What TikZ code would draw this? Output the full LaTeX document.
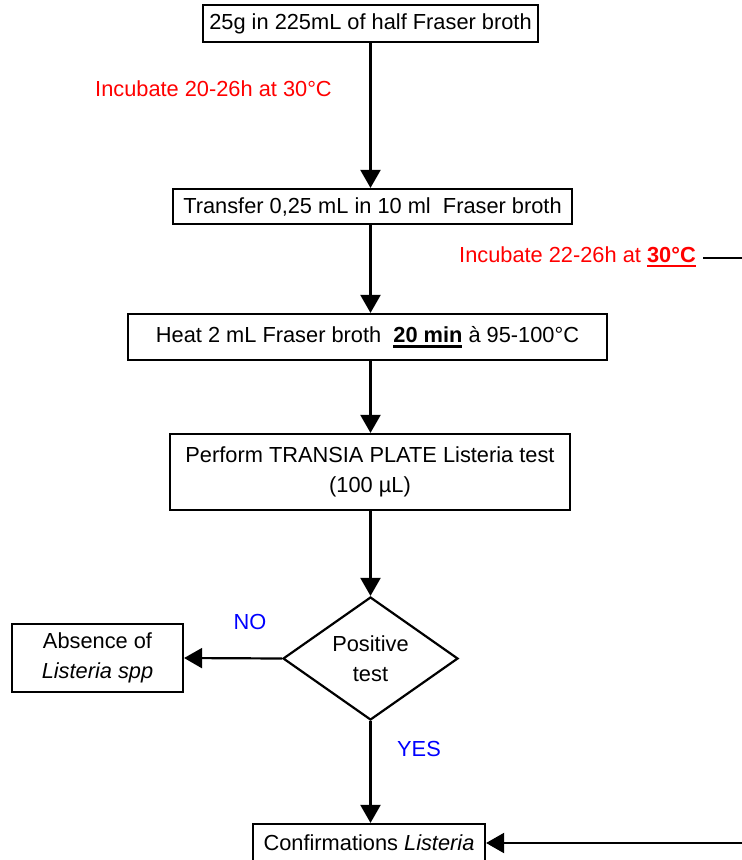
\documentclass[tikz,border=0pt]{standalone}
\usepackage{fontspec}
\setmainfont{Liberation Sans}
\usetikzlibrary{shapes.geometric,arrows.meta}
\newcommand\myul[1]{\setbox0\hbox{#1}\rlap{\vrule width\wd0 height -2.5pt depth 5pt}\box0}
\tikzset{
  box/.style={draw, line width=2.2pt, inner sep=0pt, align=center, fill=white},
  decision/.style={draw, diamond, line width=2.2pt, inner sep=0pt, align=center},
  arr/.style={line width=2.2pt, -{Triangle[length=18pt,width=20pt]}},
  plain/.style={line width=2.2pt},
  redlbl/.style={text=red, inner sep=0pt},
  bluelbl/.style={text=blue, inner sep=0pt}
}
\begin{document}
\begin{tikzpicture}[x=1pt,y=-1pt,font=\fontsize{21.8pt}{30pt}\selectfont]
\useasboundingbox (0,0) rectangle (742,860);
\node[box, minimum width=335pt, minimum height=37pt] (b1) at (370.5,23.5) {25g in 225mL of half Fraser broth};
\node[box, minimum width=399pt, minimum height=35pt] (b2) at (372.5,206.5) {Transfer 0,25 mL in 10 ml\ \ Fraser broth};
\node[box, minimum width=479pt, minimum height=46pt] (b3) at (367.5,337) {Heat 2 mL Fraser broth\ \ \myul{\textbf{20 min}}\ à 95-100°C};
\node[box, minimum width=400pt, minimum height=76pt] (b4) at (370,472) {Perform TRANSIA PLATE Listeria test\\(100 µL)};
\node[decision, minimum width=175pt, minimum height=123pt] (d) at (370.5,658.5) {Positive\\test};
\node[box, minimum width=171pt, minimum height=68pt] (ab) at (97.5,658) {Absence of\\\textit{Listeria spp}};
\node[box, minimum width=232pt, minimum height=38pt] (c) at (369,843) {Confirmations \textit{Listeria}};

\node[redlbl, anchor=west] (l1) at (95,89) {Incubate 20-26h at 30°C};
\node[redlbl, anchor=west] (l2) at (459,257) {Incubate 22-26h at \myul{\textbf{30°C}}};
\node[bluelbl] (no) at (250,622) {NO};
\node[bluelbl] (yes) at (419,749) {YES};

\coordinate (r1s) at (703,258);
\coordinate (r1) at (742,258);
\coordinate (r2) at (742,843);

\draw[arr] (b1.south -| d.north) -- (b2.north -| d.north);
\draw[arr] (b2.south -| d.north) -- (b3.north -| d.north);
\draw[arr] (b3.south -| d.north) -- (b4.north -| d.north);
\draw[arr] (b4.south -| d.north) -- (d.north);
\draw[arr] (d.west) -- (ab.east);
\draw[arr] (d.south) -- (c.north -| d.south);
\draw[plain] (r1s) -- (r1);
\draw[arr] (r2) -- (c.east);
\end{tikzpicture}
\end{document}
